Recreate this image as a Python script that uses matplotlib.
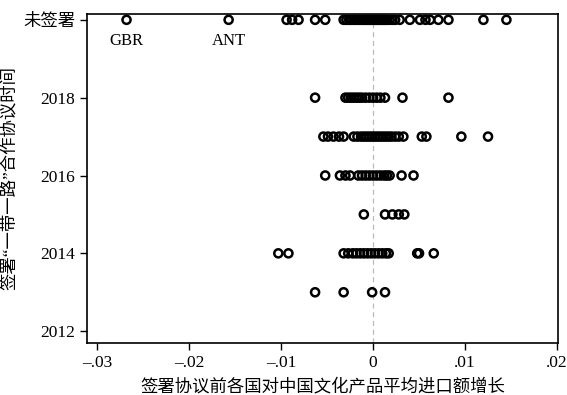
import numpy as np
import matplotlib
matplotlib.use("Agg")
import matplotlib.pyplot as plt

plt.rcParams["font.family"] = ["Liberation Serif", "Noto Sans CJK SC"]

# x = average import growth before signing, grouped by signing year (2020 = not signed)
unsigned = [-0.0268, -0.0157, -0.0094, -0.0088, -0.0081, -0.0063, -0.0052,
            -0.0032, -0.0029, -0.0026, -0.0024, -0.0021, -0.0019, -0.0016, -0.0014,
            -0.0011, -0.0009, -0.0007, -0.0005, -0.0003, -0.0001, 0.0001, 0.0003,
            0.0005, 0.0007, 0.0009, 0.0011, 0.0013, 0.0015, 0.0018, 0.0021, 0.0024,
            0.0029, 0.0040, 0.0051, 0.0057, 0.0062, 0.0071, 0.0082, 0.0120, 0.0145]
y2018 = [-0.0063, -0.0030, -0.0027, -0.0024, -0.0021, -0.0018, -0.0015, -0.0012,
         -0.0008, -0.0004, 0.0000, 0.0004, 0.0008, 0.0013, 0.0032, 0.0082]
y2017 = [-0.0054, -0.0049, -0.0043, -0.0037, -0.0032, -0.0021, -0.0017, -0.0013,
         -0.0010, -0.0007, -0.0004, -0.0001, 0.0002, 0.0005, 0.0008, 0.0011, 0.0014,
         0.0017, 0.0020, 0.0024, 0.0028, 0.0033, 0.0053, 0.0058, 0.0096, 0.0125]
y2016 = [-0.0052, -0.0036, -0.0030, -0.0025, -0.0016, -0.0012, -0.0008, -0.0004,
         0.0000, 0.0004, 0.0008, 0.0012, 0.0015, 0.0018, 0.0031, 0.0044]
y2015 = [-0.0010, 0.0013, 0.0021, 0.0028, 0.0034]
y2014 = [-0.0103, -0.0092, -0.0032, -0.0027, -0.0022, -0.0018, -0.0014, -0.0010,
         -0.0006, -0.0002, 0.0002, 0.0006, 0.0010, 0.0014, 0.0017, 0.0048, 0.0050,
         0.0066]
y2013 = [-0.0063, -0.0032, -0.0001, 0.0013]

rows = {2020: unsigned, 2018: y2018, 2017: y2017, 2016: y2016,
        2015: y2015, 2014: y2014, 2013: y2013}
labels = [("GBR", -0.0268), ("ANT", -0.0157)]

yticks = [2012, 2014, 2016, 2018, 2020]
yticklabels = ["2012", "2014", "2016", "2018", "未签署"]
xticks = [-0.03, -0.02, -0.01, 0, 0.01, 0.02]
xticklabels = ["–.03", "–.02", "–.01", "0", ".01", ".02"]

fig = plt.figure(figsize=(5.67, 3.95), dpi=100)
ax = fig.add_axes([0.1534, 0.132, 0.8306, 0.8326])

ax.axvline(0, color="#bbbbbb", lw=0.9, ls=(0, (4, 3)), zorder=0)
for yr, xs in rows.items():
    ax.scatter(xs, np.full(len(xs), yr), s=34, facecolors="none",
               edgecolors="black", linewidths=1.8, zorder=2)
for name, xv in labels:
    ax.text(xv, 2020 - 0.35, name, ha="center", va="top", fontsize=12)

ax.set_xlim(-0.0311, 0.0201)
ax.set_ylim(2011.7, 2020.15)
ax.set_xticks(xticks)
ax.set_xticklabels(xticklabels)
ax.set_yticks(yticks)
ax.set_yticklabels(yticklabels)
ax.tick_params(labelsize=12.5, length=5, width=1, direction="out")
for sp in ax.spines.values():
    sp.set_linewidth(1.2)

ax.set_xlabel("签署协议前各国对中国文化产品平均进口额增长", fontsize=12.5, labelpad=6)
ax.set_ylabel("签署“一带一路”合作协议时间", fontsize=12.5, labelpad=4)

fig.savefig("out.png", dpi=100)
